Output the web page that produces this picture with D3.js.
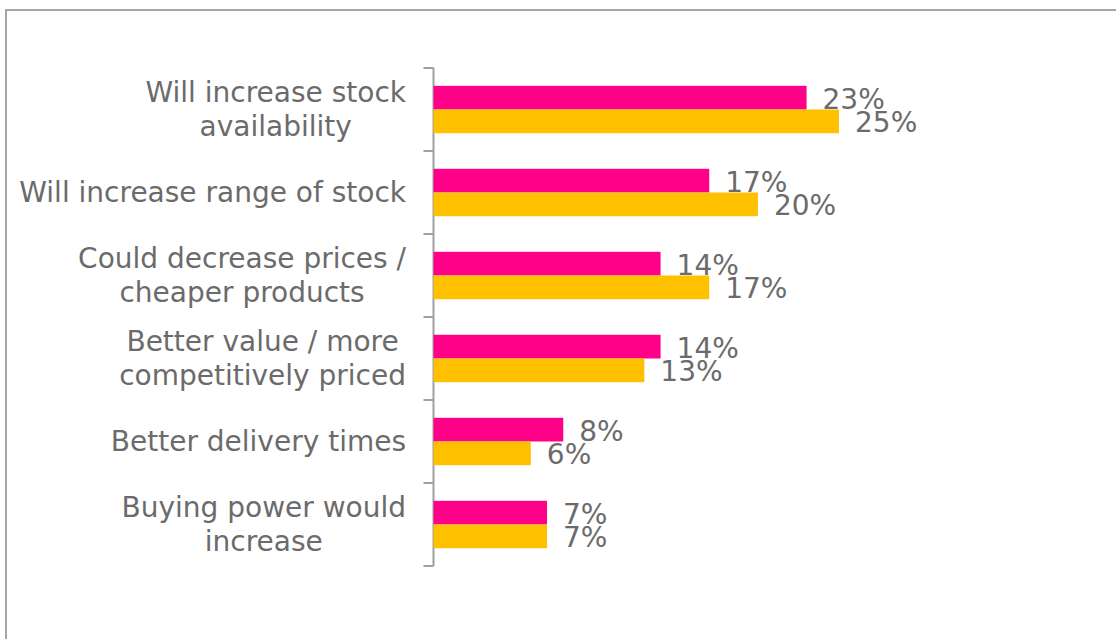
<!DOCTYPE html>
<html>
<head>
<meta charset="utf-8">
<script src="https://cdn.jsdelivr.net/npm/d3@7"></script>
<style>
  html, body { margin: 0; padding: 0; background: #fff; }
  svg { display: block; }
  text { font-family: "DejaVu Sans", Verdana, sans-serif; fill: #6b6b6b; }
</style>
</head>
<body>
<svg id="chart" width="1116" height="639"></svg>
<script>
// Reasons, one entry per row (line breaks as drawn)
const categories = [
  ["Will increase stock", "availability"],
  ["Will increase range of stock"],
  ["Could decrease prices /", "cheaper products"],
  ["Better value / more", "competitively priced"],
  ["Better delivery times"],
  ["Buying power would", "increase"]
];
// Two survey series (upper pink bar, lower yellow bar)
const seriesA = [0.23, 0.17, 0.14, 0.14, 0.08, 0.07];
const seriesB = [0.25, 0.20, 0.17, 0.13, 0.06, 0.07];
const seriesColors = ["#FF0088", "#FFC000"];

const svg = d3.select("#chart");
const W = 1116, H = 639;

// outer frame
svg.append("rect")
  .attr("x", 6).attr("y", 10)
  .attr("width", W + 20).attr("height", H + 20)
  .attr("fill", "none").attr("stroke", "#a6a6a6").attr("stroke-width", 2);

const axisX = 433.5;
const x = d3.scaleLinear().domain([0, 0.25]).range([axisX, 839]);
const y = d3.scaleBand().domain(d3.range(categories.length)).range([68, 566]).padding(0);
const barH = 23.7;
const fontSize = "28px";

// category axis with ticks at band boundaries
const axisG = svg.append("g").attr("class", "axis");
axisG.append("line")
  .attr("x1", axisX).attr("x2", axisX)
  .attr("y1", y.range()[0]).attr("y2", y.range()[1])
  .attr("stroke", "#a0a0a0").attr("stroke-width", 2);
const boundaries = d3.range(categories.length + 1).map(i => y.range()[0] + i * y.step());
axisG.selectAll("line.tick").data(boundaries).join("line")
  .attr("class", "tick")
  .attr("x1", axisX - 10).attr("x2", axisX)
  .attr("y1", d => d).attr("y2", d => d)
  .attr("stroke", "#a0a0a0").attr("stroke-width", 2);

const rows = categories.map((c, i) => ({ label: c, i }));

// bars and value labels
const series = [
  { values: seriesA, color: seriesColors[0], offset: -barH },
  { values: seriesB, color: seriesColors[1], offset: 0 }
];
series.forEach(s => {
  const g = svg.append("g");
  g.selectAll("rect").data(s.values).join("rect")
    .attr("x", x(0))
    .attr("y", (d, i) => y(i) + y.bandwidth() / 2 + s.offset)
    .attr("width", d => x(d) - x(0))
    .attr("height", barH)
    .attr("fill", s.color);
  g.selectAll("text").data(s.values).join("text")
    .attr("x", d => x(d) + 16)
    .attr("y", (d, i) => y(i) + y.bandwidth() / 2 + s.offset + barH / 2 + 1.5)
    .attr("dominant-baseline", "central")
    .style("font-size", fontSize)
    .text(d => d3.format(".0%")(d));
});

// category labels: lines centred on each other, block right-aligned
const labelRight = 406;
const lineH = 34;
rows.forEach(r => {
  const g = svg.append("g");
  const n = r.label.length;
  const cy = y(r.i) + y.bandwidth() / 2;
  const texts = g.selectAll("text").data(r.label).join("text")
    .style("font-size", fontSize)
    .attr("text-anchor", "middle")
    .attr("dominant-baseline", "central")
    .attr("y", (d, k) => cy + (k - (n - 1) / 2) * lineH)
    .text(d => d);
  let maxW = 0;
  texts.each(function () { maxW = Math.max(maxW, this.getComputedTextLength()); });
  texts.attr("x", labelRight - maxW / 2);
});
</script>
</body>
</html>
